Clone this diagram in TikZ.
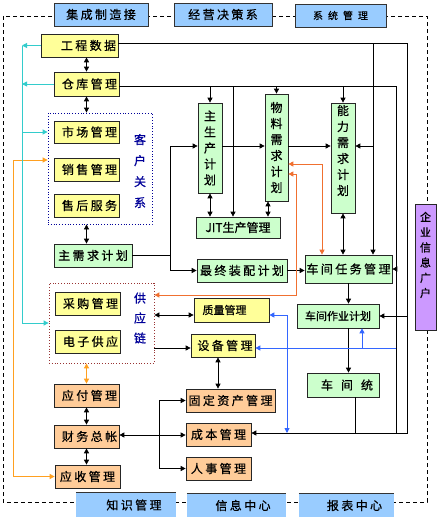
\documentclass[tikz,border=0pt]{standalone}
\usepackage{fontspec}
\usetikzlibrary{arrows.meta}
\newfontfamily\cjk[LetterSpace=20,FakeBold=0.6]{Noto Sans CJK SC}
\newfontfamily\cjkn[FakeBold=0.6]{Noto Sans CJK SC}
\newfontfamily\cjkw[LetterSpace=50,FakeBold=0.6]{Noto Sans CJK SC}
\definecolor{yfill}{HTML}{FFFF99}
\definecolor{gfill}{HTML}{CCFFCC}
\definecolor{ofill}{HTML}{FFCC99}
\definecolor{bfill}{HTML}{99CCFF}
\definecolor{pfill}{HTML}{CC99FF}
\definecolor{cyl}{HTML}{33CCCC}
\definecolor{aml}{HTML}{FFA020}
\definecolor{orl}{HTML}{F07030}
\definecolor{bll}{HTML}{3366FF}
\definecolor{navy}{HTML}{000099}
\definecolor{dred}{HTML}{993333}
\begin{document}
\begin{tikzpicture}[x=1pt,y=-1pt,
  bxs/.style={draw=black!85, line width=0.7pt, inner sep=0pt, font=\cjk\fontsize{12}{14}\selectfont},
  ybox/.style={bxs, fill=yfill},
  gbox/.style={bxs, fill=gfill},
  obox/.style={bxs, fill=ofill},
  hbox/.style={draw=black!80, line width=0.8pt, fill=bfill, inner sep=0pt, font=\cjk\fontsize{12}{14}\selectfont},
  fbox/.style={fill=bfill, inner sep=0pt, font=\cjk\fontsize{12}{14}\selectfont},
  vt/.style={align=center, inner sep=0pt, font=\cjkn\fontsize{12}{16}\selectfont},
  grp/.style={dotted, line width=0.8pt, inner sep=0pt},
  ln/.style={line width=0.8pt, draw=black},
  cy/.style={line width=0.9pt, draw=cyl},
  am/.style={line width=0.9pt, draw=aml},
  orr/.style={line width=0.9pt, draw=orl},
  bl/.style={line width=0.9pt, draw=bll},
  arr/.style={-{Triangle[length=5pt,width=5pt]}},
  dar/.style={{Triangle[length=5pt,width=5pt]}-{Triangle[length=5pt,width=5pt]}}
]
\useasboundingbox (0,0) rectangle (440,522);
\fill[white] (0,0) rectangle (440,522);
% outer dashed frame
\draw[line width=0.7pt, dash pattern=on 4pt off 3pt] (3,16) rectangle (427,502);

% helper coordinates
\coordinate (cyx) at (22,0);
\coordinate (orx) at (13,0);
\coordinate (o160) at (0,160);
\coordinate (x159) at (159,0);
\coordinate (x170) at (170,0);
\coordinate (x218) at (218,0);
\coordinate (x233) at (233,0);
\coordinate (x268) at (268,0);
\coordinate (x287) at (287,0);
\coordinate (x355) at (355,0);
\coordinate (x362) at (362,0);
\coordinate (x373) at (373,0);
\coordinate (x396) at (396,0);
\coordinate (x407) at (407,0);
\coordinate (o1) at (322,164);
\coordinate (o2) at (296,174);
\coordinate (o3) at (296,295);
\coordinate (b315) at (0,315);
\coordinate (b348) at (0,348);
\coordinate (r146) at (0,146);
\coordinate (r43) at (0,43);
\coordinate (r86) at (0,86);
\coordinate (r433) at (0,433);
\coordinate (r435) at (0,435);

% headers
\node[hbox, minimum width=94pt, minimum height=23pt] (h1) at (101,14.5) {集成制造接};
\node[hbox, minimum width=98pt, minimum height=23pt] (h2) at (223,14.5) {经营决策系};
\node[hbox, font=\cjkw\fontsize{10}{12}\selectfont, minimum width=91pt, minimum height=23pt] (h3) at (340.5,15.5) {系统管理};
\node[fbox, minimum width=100pt, minimum height=24pt] (h4) at (126,505) {\hspace*{16pt}知识管理};
\node[fbox, minimum width=99pt, minimum height=23pt] (h5) at (236.5,505.5) {\hspace*{13pt}信息中心};
\node[fbox, minimum width=95pt, minimum height=23pt] (h6) at (346.5,505.5) {\hspace*{16pt}报表中心};
\draw[black!80, line width=0.7pt] (h4.north west) -- (h4.north east);
\draw[black!80, line width=0.7pt] (h5.north west) -- (h5.north east);
\draw[black!80, line width=0.7pt] (h6.north west) -- (h6.north east);

% left column
\node[ybox, minimum width=77pt, minimum height=23pt] (gc) at (79.5,45.5) {\hspace*{18pt}工程数据};
\node[ybox, minimum width=65pt, minimum height=24pt] (ck) at (86.5,84) {\hspace*{6pt}仓库管理};
\node[grp, draw=navy, minimum width=104pt, minimum height=111pt] (kh) at (100,168.5) {};
\node[ybox, minimum width=65pt, minimum height=22pt] (sc) at (86.5,132) {\hspace*{6pt}市场管理};
\node[ybox, minimum width=65pt, minimum height=23pt] (xs) at (86.5,169.5) {\hspace*{6pt}销售管理};
\node[ybox, minimum width=65pt, minimum height=23pt] (sh) at (86.5,205.5) {\hspace*{6pt}售后服务};
\node[vt, text=navy, font=\cjkn\fontsize{12}{21}\selectfont] (khl) at (140,171) {客\\户\\关\\系};
\node[gbox, minimum width=78pt, minimum height=23pt] (zx) at (93,255.5) {主需求计划};
\node[grp, draw=dred, minimum width=105pt, minimum height=80pt] (gy) at (101.5,323) {};
\node[ybox, minimum width=65pt, minimum height=23pt] (cg) at (87.5,303.5) {\hspace*{6pt}采购管理};
\node[ybox, minimum width=65pt, minimum height=23pt] (dz) at (87.5,341.5) {\hspace*{6pt}电子供应};
\node[vt, text=navy, font=\cjkn\fontsize{12}{20}\selectfont] (gyl) at (140,318) {供\\应\\链};
\node[obox, minimum width=65pt, minimum height=23pt] (yf) at (86.5,395.5) {\hspace*{6pt}应付管理};
\node[obox, minimum width=65pt, minimum height=23pt] (cw) at (86.5,436.5) {\hspace*{6pt}财务总帐};
\node[obox, minimum width=65pt, minimum height=23pt] (ys) at (87.5,476.5) {应收管理};

% middle
\node[gbox, vt, minimum width=24pt, minimum height=90pt] (zsc) at (210,148) {主\\生\\产\\计\\划};
\node[gbox, vt, minimum width=23pt, minimum height=107pt] (wl) at (276.5,147.5) {物\\料\\需\\求\\计\\划};
\node[gbox, minimum width=24pt, minimum height=110pt] (nl) at (343,158) {};
\node[vt] (nlt) at (343,150.5) {能\\力\\需\\求\\计\\划};
\node[gbox, font=\cjkn\fontsize{12}{14}\selectfont, minimum width=84pt, minimum height=21pt] (jit) at (238,227.5) {JIT生产管理};
\node[gbox, minimum width=90pt, minimum height=23pt] (zz) at (242,270.5) {最终装配计划};
\node[gbox, minimum width=87pt, minimum height=28pt] (cj) at (348.5,269) {车间任务管理};
\node[ybox, font=\cjkn\fontsize{11}{13}\selectfont, minimum width=75pt, minimum height=24pt] (zl) at (231.5,310) {质量管理\hspace*{14pt}};
\node[ybox, minimum width=64pt, minimum height=23pt] (sb) at (223,345.5) {\hspace*{4pt}设备管理};
\node[gbox, font=\cjkn\fontsize{11}{13}\selectfont, minimum width=82pt, minimum height=24pt] (cz) at (338,316) {车间作业计划};
\node[gbox, font=\cjkn\fontsize{12}{14}\selectfont, minimum width=72pt, minimum height=24pt] (cjt) at (343,385) {\hspace*{8pt}车\hspace{8pt}间\hspace{8pt}统};
\node[obox, minimum width=89pt, minimum height=23pt] (gd) at (230.5,400.5) {固定资产管理};
\node[obox, minimum width=65pt, minimum height=23pt] (cb) at (218.5,434.5) {成本管理};
\node[obox, minimum width=65pt, minimum height=23pt] (rs) at (218.5,468.5) {人事管理};
\node[draw=black!85, line width=0.7pt, fill=pfill, inner sep=0pt, minimum width=21pt, minimum height=126pt] (qy) at (425.5,267) {};
\node[vt, font=\cjkn\fontsize{11}{15.2}\selectfont] (qyt) at (425.5,255) {企\\业\\信\\息\\广\\户};

% black connectors
\draw[ln,arr] (gc.east |- r43) -| (x407 |- r433) -- (cb.east |- r433);
\draw[ln,arr] (x373 |- r43) -- (x373 |- cj.north);
\draw[ln,arr] (x373 |- r146) -- (nl.east |- r146);
\draw[ln] (ck.east |- r86) -| (x396 |- r433);
\draw[ln,arr] (zsc.north |- r86) -- (zsc.north);
\draw[ln,arr] (x233 |- r86) -- (x233 |- jit.north);
\draw[ln,arr] (wl.north |- r86) -- (wl.north);
\draw[ln,arr] (nl.north |- r86) -- (nl.north);
\draw[ln,arr] (x396 |- cj.east) -- (cj.east);
\draw[ln,arr] (x407 |- cz.east) -- (cz.east);
\draw[ln] (x355 |- cjt.south) -- (x355 |- r433);
\draw[ln] (zx.east) -- (zx.east -| x170);
\draw[ln,arr] (x170 |- r146) |- (zz.west);
\draw[ln,arr] (x170 |- r146) -- (zsc.west |- r146);
\draw[ln,arr] (zsc.east |- r146) -- (wl.west |- r146);
\draw[ln,arr] (wl.east |- r146) -- (nl.west |- r146);
\draw[ln,dar] (zsc.south) -- (zsc.south |- jit.north);
\draw[ln,dar] (x268 |- wl.south) -- (x268 |- jit.north);
\draw[ln,dar] (nl.south) -- (nl.south |- cj.north);
\draw[ln,arr] (zz.east) -- (zz.east -| cj.west);
\draw[ln,arr] (cj.south) -- (cj.south |- cz.north);
\draw[ln,arr] (cj.south |- cz.south) -- (cj.south |- cjt.north);
\draw[ln,dar] (gy.east |- b315) -- (zl.west |- b315);
\draw[ln,arr] (gy.east |- b348) -- (sb.west |- b348);
\draw[ln,dar] (x218 |- sb.south) -- (x218 |- gd.north);
\draw[ln,dar] (cw.east |- r435) -- (cb.west |- r435);
\draw[ln] (x159 |- gd.west) -- (x159 |- rs.west);
\draw[ln,arr] (x159 |- gd.west) -- (gd.west);
\draw[ln,arr] (x159 |- rs.west) -- (rs.west);
\draw[ln,dar] (ck.north |- gc.south) -- (ck.north);
\draw[ln,dar] (ck.south) -- (ck.south |- kh.north);
\draw[ln,dar] (sh.south |- kh.south) -- (sh.south |- zx.north);
\draw[ln,dar] (yf.south) -- (cw.north);
\draw[ln,dar] (cw.south) -- (cw.south |- ys.north);

% orange connectors
\draw[orr,dar] (cj.north -| o1) |- (wl.east |- o1);
\draw[orr,dar] (gy.east |- o3) -- (o3) -- (o2) -- (wl.east |- o2);
\draw[am,dar] (yf.north |- gy.south) -- (yf.north);
\draw[am,dar] (kh.west |- o160) -| (orx |- ys.west) -- (ys.west);

% blue connectors
\draw[bl,arr] (x396 |- b348) -- (sb.east |- b348);
\draw[bl,dar] (zl.east |- b315) -| (x287 |- r433);
\draw[bl,arr] (x362 |- b348) -- (x362 |- cz.south);

% cyan connectors
\draw[cy] (cyx |- gc.west) -- (cyx |- gy.west);
\draw[cy,arr] (gc.west) -- (cyx |- gc.west);
\draw[cy,arr] (ck.west) -- (cyx |- ck.west);
\draw[cy,arr] (cyx |- sc.west) -- (kh.west |- sc.west);
\draw[cy,arr] (cyx |- gy.west) -- (gy.west);
\end{tikzpicture}
\end{document}
